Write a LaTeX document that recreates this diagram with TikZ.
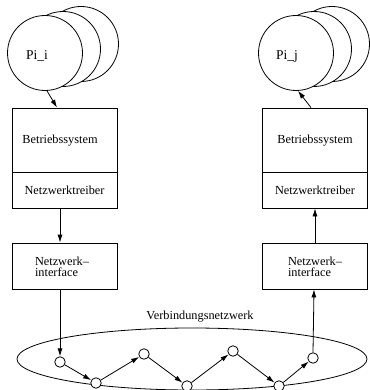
\documentclass[tikz,border=0pt]{standalone}
\usepackage{fontspec}
\setmainfont{Liberation Serif}
\usetikzlibrary{arrows.meta,shapes.geometric}
\begin{document}
\begin{tikzpicture}[x=1pt,y=-1pt,
  every node/.style={font=\fontsize{12.3}{11.2}\selectfont},
  proc/.style={circle,draw,fill=white,minimum size=75pt,inner sep=0pt,line width=0.8pt},
  blk/.style={draw,rectangle,minimum width=105pt,inner sep=0pt,line width=0.8pt},
  hop/.style={circle,draw,fill=white,minimum size=10.5pt,inner sep=0pt,line width=0.8pt},
  arr/.style={-{Latex[length=8pt,width=5pt]},line width=0.8pt}]
\useasboundingbox (0,0) rectangle (369,390);

% process stacks
\node[proc] (pi3) at (81,44) {};
\node[proc] (pi2) at (63,49) {};
\node[proc] (pi)  at (45,53) {};
\node at (37,56) {\fontsize{13.5}{14}\selectfont Pi\_i};

\node[proc] (pj3) at (332,44) {};
\node[proc] (pj2) at (314,49) {};
\node[proc] (pj)  at (296,53) {};
\node at (287,56) {\fontsize{13.5}{14}\selectfont Pi\_j};

% left host
\node[blk,minimum height=64pt] (osi) at (64.5,140) {};
\node at (60,141) {Betriebssystem};
\node[blk,minimum height=36pt] (drvi) at (64.5,190) {Netzwerktreiber};
\node[blk,minimum height=46pt] (nici) at (64.5,266) {};
\node[align=left,inner sep=0pt] at (62,267) {Netzwerk--\\interface};

% right host
\node[blk,minimum height=64pt] (osj) at (315,140) {};
\node at (315,141) {Betriebssystem};
\node[blk,minimum height=36pt] (drvj) at (315,190) {Netzwerktreiber};
\node[blk,minimum height=46pt] (nicj) at (315,266) {};
\node[align=left,inner sep=0pt] at (315,267) {Netzwerk--\\interface};

% interconnect
\node[ellipse,draw,line width=0.8pt,minimum width=350pt,minimum height=62pt,inner sep=0pt] (net) at (192,359) {};
\node (netlbl) at (200,317) {Verbindungsnetzwerk};
\node[hop] (h1) at (60,362) {};
\node[hop] (h2) at (96,383) {};
\node[hop] (h3) at (144,354) {};
\node[hop] (h4) at (187,386) {};
\node[hop] (h5) at (233,351) {};
\node[hop] (h6) at (279,386) {};
\node[hop] (h7) at (313,358) {};

% connectors
\draw[arr] (pi.273) -- ([xshift=-7.5pt]osi.north);
\draw[arr] ([xshift=-4.5pt]drvi.south) -- ([xshift=-4.5pt]nici.north);
\draw[arr] ([xshift=-4.5pt]nici.south) -- (h1.north);
\draw[arr] (h1) -- (h2);
\draw[arr] (h2) -- (h3);
\draw[arr] (h3) -- (h4);
\draw[arr] (h4) -- (h5);
\draw[arr] (h5) -- (h6);
\draw[arr] (h6) -- (h7);
\draw[arr] (h7.north) -- ([xshift=-1pt]nicj.south);
\draw[arr] (nicj.north) -- (drvj.south);
\draw[arr] ([xshift=-4pt]osj.north) -- (pj.273);
\end{tikzpicture}
\end{document}
